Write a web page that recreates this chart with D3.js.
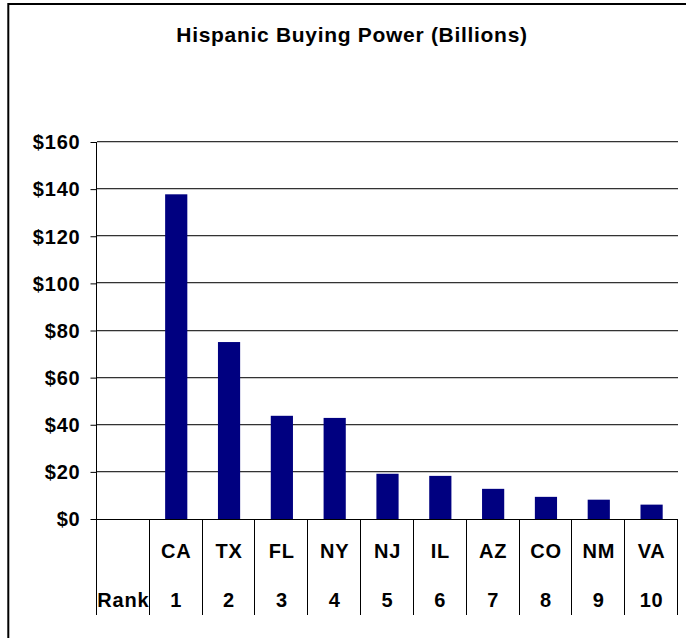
<!DOCTYPE html>
<html>
<head>
<meta charset="utf-8">
<script src="https://cdn.jsdelivr.net/npm/d3@7/dist/d3.min.js"></script>
<style>
  html, body { margin: 0; padding: 0; background: #fff; }
  svg { display: block; }
  text { font-family: "Liberation Sans", Arial, sans-serif; font-weight: bold; fill: #000; }
</style>
</head>
<body>
<svg id="chart" width="686" height="638"></svg>
<script>
// Top-ten states by Hispanic buying power, in billions of dollars
const states = ["CA", "TX", "FL", "NY", "NJ", "IL", "AZ", "CO", "NM", "VA"];
const ranks = ["1", "2", "3", "4", "5", "6", "7", "8", "9", "10"];
const buyingPower = [137.8, 75.1, 43.8, 42.9, 19.2, 18.3, 12.8, 9.4, 8.2, 6.1];
const yTicks = [0, 20, 40, 60, 80, 100, 120, 140, 160];

// First column of the data table holds the row header
const rowHeader = "Rank";
const columns = [""].concat(states);
const rowLabels = [rowHeader].concat(ranks);

const svg = d3.select("#chart");

// Outer frame of the chart area
svg.append("rect")
  .attr("x", 8.3).attr("y", 4)
  .attr("width", 720).attr("height", 700)
  .attr("fill", "#fff")
  .attr("stroke", "#000")
  .attr("stroke-width", 2);

// Title
svg.append("text")
  .attr("x", 352).attr("y", 42)
  .attr("text-anchor", "middle")
  .style("font-size", "21px")
  .style("letter-spacing", "0.7px")
  .text("Hispanic Buying Power (Billions)");

const plotLeft = 97, plotRight = 678, plotTop = 142, plotBase = 519, tableBottom = 615;

const x = d3.scaleBand().domain(columns).range([plotLeft, plotRight]).padding(0);
const y = d3.scaleLinear().domain([0, 160]).range([plotBase, plotTop]);

// Horizontal gridlines
const grid = svg.append("g");
yTicks.filter(t => t > 0).forEach(t => {
  const gy = Math.round(y(t));
  grid.append("line")
    .attr("x1", plotLeft).attr("x2", plotRight)
    .attr("y1", gy + 0.5).attr("y2", gy + 0.5)
    .attr("stroke", "#c8c8c8");
  grid.append("line")
    .attr("x1", plotLeft).attr("x2", plotRight)
    .attr("y1", gy - 0.5).attr("y2", gy - 0.5)
    .attr("stroke", "#333");
});

// Bars
const barW = x.bandwidth() * 0.42;
svg.append("g")
  .selectAll("rect")
  .data(states.map((s, i) => ({ s, v: buyingPower[i] })))
  .join("rect")
  .attr("x", d => x(d.s) + (x.bandwidth() - barW) / 2)
  .attr("y", d => y(d.v))
  .attr("width", barW)
  .attr("height", d => y(0) - y(d.v))
  .attr("fill", "#000080");

// Value axis
const yAxis = d3.axisLeft(y)
  .tickValues(yTicks)
  .tickSize(6)
  .tickPadding(10)
  .tickFormat(d => "$" + d);
const ya = svg.append("g")
  .attr("transform", `translate(${plotLeft - 0.5},0)`)
  .call(yAxis);
ya.select(".domain").remove();
ya.selectAll(".tick line").attr("stroke", "#000");
ya.selectAll(".tick text")
  .attr("dy", "0.34em")
  .style("font-size", "20px")
  .style("letter-spacing", "0.8px");

// Axis lines
svg.append("line")
  .attr("x1", plotLeft - 6).attr("x2", plotRight)
  .attr("y1", plotBase + 0.5).attr("y2", plotBase + 0.5)
  .attr("stroke", "#000");
svg.append("line")
  .attr("x1", plotLeft - 0.5).attr("x2", plotLeft - 0.5)
  .attr("y1", plotTop).attr("y2", tableBottom)
  .attr("stroke", "#000");

// Data table below the axis: state row and rank row
const table = svg.append("g");
columns.forEach((c, i) => {
  const x1 = Math.round(x(c) + x.bandwidth()) - 0.5;
  table.append("line")
    .attr("x1", x1).attr("x2", x1)
    .attr("y1", plotBase).attr("y2", tableBottom)
    .attr("stroke", "#000");
  const cx = x(c) + x.bandwidth() / 2;
  table.append("text")
    .attr("x", cx).attr("y", 558)
    .attr("text-anchor", "middle")
    .style("font-size", "20px")
    .style("letter-spacing", "0.8px")
    .text(c);
  table.append("text")
    .attr("x", cx).attr("y", 607)
    .attr("text-anchor", "middle")
    .style("font-size", "20px")
    .style("letter-spacing", "0.8px")
    .text(rowLabels[i]);
});
</script>
</body>
</html>
